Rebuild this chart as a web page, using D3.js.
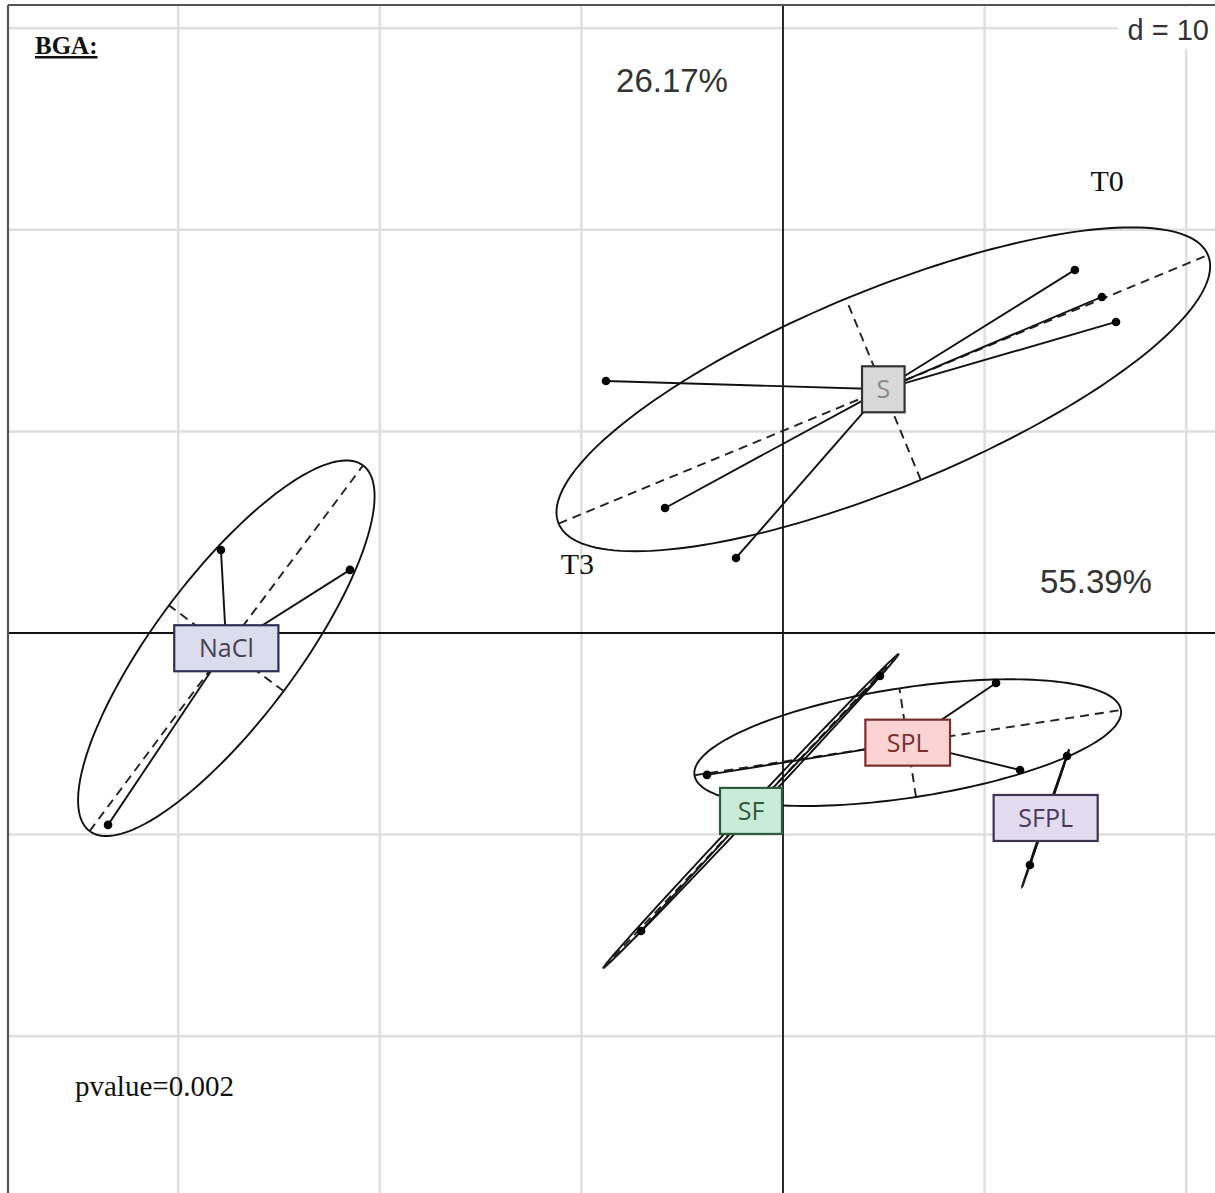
<!DOCTYPE html>
<html>
<head>
<meta charset="utf-8">
<script src="https://cdn.jsdelivr.net/npm/d3@7"></script>
<style>
  html, body { margin: 0; padding: 0; background: #fff; }
  svg { display: block; }
</style>
</head>
<body>
<svg id="chart" width="1215" height="1193"></svg>
<script>
// ---------- DATA ----------
const groupNames = ["S", "NaCl", "SPL", "SF", "SFPL"];
const groupS    = [[14.48, 18.01], [15.82, 16.67], [16.52, 15.43], [-8.78, 12.50], [-5.85, 6.20], [-2.33, 3.72]];
const groupNaCl = [[-27.88, 4.12], [-21.48, 3.13], [-33.48, -9.52]];
const groupSPL  = [[10.57, -2.48], [11.76, -6.80], [-3.77, -7.04]];
const groupSF   = [[4.81, -2.13], [-7.04, -14.78], [-2.53, -9.57]];
const groupSFPL = [[14.09, -6.10], [12.25, -11.51], [12.75, -9.92]];
const gridTicksX = [-30, -20, -10, 0, 10, 20];
const gridTicksY = [-20, -10, 0, 10, 20, 30];
const axisPercentX = "55.39%";
const axisPercentY = "26.17%";
const timeLabels = [{text: "T0", x: 16.08, y: 21.93}, {text: "T3", x: -10.2, y: 2.93}];
const titleText = "BGA:";
const scaleText = "d = 10";
const pvalueText = "pvalue=0.002";

const groupPoints = [groupS, groupNaCl, groupSPL, groupSF, groupSFPL];
const boxFill   = ["#d9d9d9", "#dcdcef", "#fcd3d3", "#c9ecd9", "#e3dbef"];
const boxStroke = ["#333333", "#2f2f55", "#7a2f2f", "#2f5a3e", "#3f3350"];
const boxText   = ["#8a8a8a", "#444455", "#7a2f2f", "#2f5a3e", "#4b3b5b"];

// ---------- SCALES ----------
const W = 1215, H = 1193;
const x = d3.scaleLinear().domain([-38.84, 21.43]).range([0, W]);
const y = d3.scaleLinear().domain([-27.78, 31.40]).range([H, 0]);

const svg = d3.select("#chart");
const frameLeft = 8, frameTop = 5;

// grid
const grid = svg.append("g");
grid.selectAll("line.gx").data(gridTicksX.filter(d => d !== 0)).join("line")
  .attr("x1", d => x(d)).attr("x2", d => x(d))
  .attr("y1", frameTop).attr("y2", H)
  .attr("stroke", "#dedede").attr("stroke-width", 2.5);
grid.selectAll("line.gy").data(gridTicksY.filter(d => d !== 0)).join("line")
  .attr("y1", d => y(d)).attr("y2", d => y(d))
  .attr("x1", frameLeft).attr("x2", W)
  .attr("stroke", "#dedede").attr("stroke-width", 2.5);

// "d = 10" box (white background)
svg.append("rect").attr("x", 1118).attr("y", frameTop + 2).attr("width", W - 1118).attr("height", 42).attr("fill", "#fff");
svg.append("text").attr("x", 1209).attr("y", 40).attr("text-anchor", "end")
  .attr("font-family", "Liberation Sans, Arial, sans-serif").attr("font-size", 29)
  .attr("fill", "#333").text(scaleText);

// main axes
svg.append("line").attr("x1", x(0)).attr("x2", x(0)).attr("y1", frameTop).attr("y2", H)
  .attr("stroke", "#111").attr("stroke-width", 1.8);
svg.append("line").attr("y1", y(0)).attr("y2", y(0)).attr("x1", frameLeft).attr("x2", W)
  .attr("stroke", "#111").attr("stroke-width", 1.8);

// frame
svg.append("line").attr("x1", frameLeft).attr("x2", W).attr("y1", frameTop).attr("y2", frameTop)
  .attr("stroke", "#555").attr("stroke-width", 2);
svg.append("line").attr("x1", frameLeft).attr("x2", frameLeft).attr("y1", frameTop).attr("y2", H)
  .attr("stroke", "#555").attr("stroke-width", 2.2);

// ---------- ellipse statistics (ade4 s.class, cellipse = 1.5) ----------
function stats(pts) {
  const n = pts.length;
  const mx = d3.mean(pts, p => p[0]), my = d3.mean(pts, p => p[1]);
  let vx = 0, vy = 0, cv = 0;
  pts.forEach(p => { vx += (p[0]-mx)**2; vy += (p[1]-my)**2; cv += (p[0]-mx)*(p[1]-my); });
  vx /= n; vy /= n; cv /= n;
  const tr = vx + vy, det = vx*vy - cv*cv;
  const disc = Math.sqrt(Math.max(tr*tr/4 - det, 0));
  const l1 = tr/2 + disc, l2 = Math.max(tr/2 - disc, 0);
  let v1;
  if (Math.abs(cv) > 1e-12) v1 = [cv, l1 - vx]; else v1 = vx >= vy ? [1, 0] : [0, 1];
  const nn = Math.hypot(v1[0], v1[1]); v1 = [v1[0]/nn, v1[1]/nn];
  const v2 = [-v1[1], v1[0]];
  const c = 1.5;
  return {mx, my, a: c*Math.sqrt(l1), b: c*Math.sqrt(l2), v1, v2};
}

const line = d3.line().x(d => x(d[0])).y(d => y(d[1]));
const ells = svg.append("g");
const stars = svg.append("g");
const dots = svg.append("g");
const labels = svg.append("g");

groupPoints.forEach((pts, gi) => {
  const s = stats(pts);
  const ring = d3.range(0, 361, 2).map(t => {
    const r = t * Math.PI / 180;
    return [s.mx + s.a*Math.cos(r)*s.v1[0] + s.b*Math.sin(r)*s.v2[0],
            s.my + s.a*Math.cos(r)*s.v1[1] + s.b*Math.sin(r)*s.v2[1]];
  });
  ells.append("path").attr("d", line(ring)).attr("fill", "none")
    .attr("stroke", "#111").attr("stroke-width", 1.9);
  // ellipse axes (dashed)
  [[s.v1, s.a], [s.v2, s.b]].forEach(([v, len]) => {
    ells.append("path").attr("d", line([[s.mx - v[0]*len, s.my - v[1]*len], [s.mx + v[0]*len, s.my + v[1]*len]]))
      .attr("fill", "none").attr("stroke", "#222").attr("stroke-width", 1.9).attr("stroke-dasharray", "9,6");
  });
  // star lines
  pts.forEach(p => {
    stars.append("path").attr("d", line([[s.mx, s.my], p]))
      .attr("stroke", "#111").attr("stroke-width", 1.9).attr("fill", "none");
  });
  dots.selectAll(null).data(pts).join("circle")
    .attr("cx", d => x(d[0])).attr("cy", d => y(d[1])).attr("r", 4.3).attr("fill", "#000");

  // label box
  const g = labels.append("g").attr("transform", `translate(${x(s.mx)},${y(s.my)})`);
  const t = g.append("text").attr("text-anchor", "middle").attr("dy", "0.36em")
    .attr("font-family", "Open Sans, Noto Sans, sans-serif").attr("font-size", 25)
    .attr("fill", boxText[gi]).text(groupNames[gi]);
  const tw = t.node().getComputedTextLength();
  const bw = tw * 1.5 + 22, bh = 46;
  g.insert("rect", "text").attr("x", -bw/2).attr("y", -bh/2).attr("width", bw).attr("height", bh)
    .attr("fill", boxFill[gi]).attr("stroke", boxStroke[gi]).attr("stroke-width", 2.2);
});

// ---------- texts ----------
svg.append("text").attr("x", 35).attr("y", 54)
  .attr("font-family", "Liberation Serif, Times New Roman, serif").attr("font-size", 25)
  .attr("font-weight", "bold").attr("text-decoration", "underline").attr("fill", "#111").text(titleText);
svg.append("text").attr("x", 672).attr("y", 92).attr("text-anchor", "middle")
  .attr("font-family", "Liberation Sans, Arial, sans-serif").attr("font-size", 33)
  .attr("fill", "#333").text(axisPercentY);
svg.append("text").attr("x", 1096).attr("y", 593).attr("text-anchor", "middle")
  .attr("font-family", "Liberation Sans, Arial, sans-serif").attr("font-size", 33)
  .attr("fill", "#333").text(axisPercentX);
svg.selectAll("text.tl").data(timeLabels).join("text")
  .attr("x", d => x(d.x)).attr("y", d => y(d.y)).attr("text-anchor", "middle")
  .attr("font-family", "Liberation Serif, Times New Roman, serif").attr("font-size", 30)
  .attr("fill", "#111").text(d => d.text);
svg.append("text").attr("x", 75).attr("y", 1096)
  .attr("font-family", "Liberation Serif, Times New Roman, serif").attr("font-size", 29)
  .attr("fill", "#111").text(pvalueText);
</script>
</body>
</html>
